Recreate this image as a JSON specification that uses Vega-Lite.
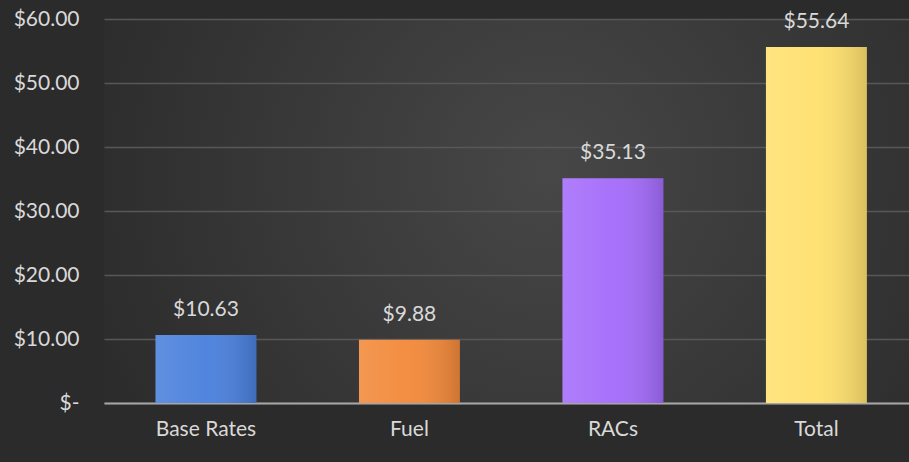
{
  "$schema": "https://vega.github.io/schema/vega-lite/v6.json",
  "width": 805,
  "height": 384,
  "autosize": {"type": "none"},
  "padding": {"left": 104, "top": 19, "right": 0, "bottom": 59},
  "background": "#2b2b2b",
  "config": {
    "view": {
      "stroke": null,
      "fill": {
        "gradient": "radial",
        "x1": 0.55, "y1": 0.45, "r1": 0,
        "x2": 0.55, "y2": 0.45, "r2": 0.62,
        "stops": [
          {"offset": 0, "color": "#474747"},
          {"offset": 0.85, "color": "#2f2f2f"},
          {"offset": 1, "color": "#2b2b2b"}
        ]
      }
    },
    "font": "Lato",
    "text": {"font": "Lato"}
  },
  "data": {
    "values": [
      {"category": "Base Rates", "value": 10.63},
      {"category": "Fuel", "value": 9.88},
      {"category": "RACs", "value": 35.13},
      {"category": "Total", "value": 55.64}
    ]
  },
  "encoding": {
    "x": {
      "field": "category",
      "type": "nominal",
      "sort": null,
      "scale": {"paddingInner": 0.504, "paddingOuter": 0.23, "align": 0.55},
      "axis": {
        "title": null,
        "labelAngle": 0,
        "labelFontSize": 21,
        "labelColor": "#d9d9d9",
        "labelFont": "Lato",
        "labelPadding": 15,
        "ticks": false,
        "domain": true,
        "domainColor": "#a6a6a6",
        "domainWidth": 2,
        "grid": false
      }
    },
    "y": {
      "field": "value",
      "type": "quantitative",
      "scale": {"domain": [0, 60], "nice": false},
      "axis": {
        "title": null,
        "values": [0, 10, 20, 30, 40, 50, 60],
        "labelExpr": "datum.value == 0 ? '$-' : '$' + format(datum.value, '.2f')",
        "labelFontSize": 21,
        "labelColor": "#d9d9d9",
        "labelFont": "Lato",
        "labelPadding": 25,
        "ticks": false,
        "domain": false,
        "grid": true,
        "gridColor": "#575757",
        "gridWidth": 1.5
      }
    }
  },
  "layer": [
    {
      "mark": {"type": "bar"},
      "encoding": {
        "color": {
          "field": "category",
          "type": "nominal",
          "sort": null,
          "scale": {"range": ["#4a80dc", "#f2893a", "#a46cfb", "#ffe06e"]},
          "legend": null
        }
      }
    },
    {
      "mark": {
        "type": "bar",
        "fill": {
          "gradient": "linear",
          "x1": 0, "y1": 0, "x2": 1, "y2": 0,
          "stops": [
            {"offset": 0, "color": "rgba(255,255,255,0.12)"},
            {"offset": 0.5, "color": "rgba(255,255,255,0.04)"},
            {"offset": 1, "color": "rgba(0,0,0,0.15)"}
          ]
        }
      }
    },
    {
      "mark": {
        "type": "text",
        "baseline": "middle",
        "dy": -25,
        "fontSize": 21,
        "color": "#d9d9d9",
        "font": "Lato"
      },
      "encoding": {
        "text": {"field": "value", "type": "quantitative", "format": "$.2f"}
      }
    }
  ]
}
